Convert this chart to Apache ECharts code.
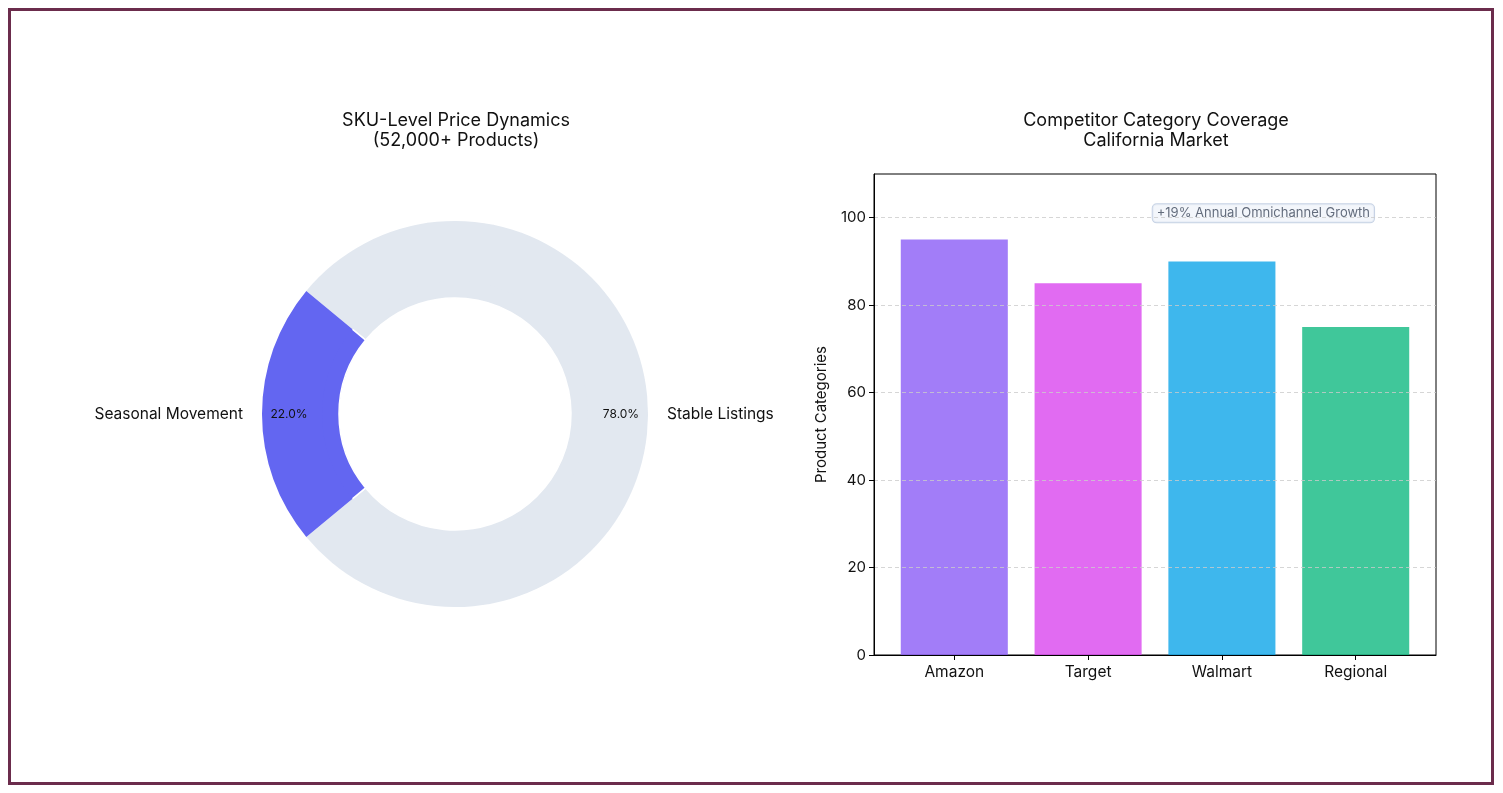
<!DOCTYPE html>
<html>
<head>
<meta charset="utf-8">
<script src="https://cdn.jsdelivr.net/npm/echarts@6/dist/echarts.min.js"></script>
<style>
  html, body { margin: 0; padding: 0; background: #fff; }
  #chart { width: 1503px; height: 793px; }
  #frame {
    position: absolute; left: 8px; top: 8px;
    width: 1480px; height: 771px;
    border: 3px solid #6b2c4c; pointer-events: none;
  }
</style>
</head>
<body>
<div id="chart"></div>
<div id="frame"></div>
<script>
// donut data
var pieNames = ["Stable Listings", "Seasonal Movement"];
var pieValues = [78, 22];

// bar data
var competitors = ["Amazon", "Target", "Walmart", "Regional"];
var coverage = [95, 85, 90, 75];
var yTicks = [0, 20, 40, 60, 80, 100];

// annotation on the bar chart (x in axis units, y in data units)
var noteText = "+19% Annual Omnichannel Growth";
var notePos = [2.31, 101];

var pieColors = ["#e2e8f0", "#6366f1"];
var barColors = ["#8b5cf6", "#d946ef", "#0ea5e9", "#10b981"];
var font = "Inter, 'Noto Sans', sans-serif";

var myChart = echarts.init(document.getElementById("chart"));

var pieData = pieNames.map(function(n, i) {
  return { name: n, value: pieValues[i], itemStyle: { color: pieColors[i] } };
});

var titleStyle = { fontSize: 18, fontWeight: "normal", lineHeight: 20, color: "#111", fontFamily: font };

var option = {
  animation: false,
  textStyle: { fontFamily: font, color: "#111" },
  title: [{
    text: "SKU-Level Price Dynamics\n(52,000+ Products)",
    left: 451, top: 106, textAlign: "center", textStyle: titleStyle
  }, {
    text: "Competitor Category Coverage\nCalifornia Market",
    left: 1151, top: 106, textAlign: "center", textStyle: titleStyle
  }],
  grid: [
    // outer frame with y axis
    { left: 874, top: 174, width: 562, height: 481, show: true, borderColor: "#000", borderWidth: 1, backgroundColor: "transparent" },
    // inner grid for bars (matches -0.6..3.6 x-limits)
    { left: 887.4, top: 174, width: 535.2, height: 481 }
  ],
  xAxis: [{
    gridIndex: 0, type: "value", min: -0.6, max: 3.6, z: 5,
    axisLine: { show: true, onZero: false, lineStyle: { color: "#000" } },
    axisTick: { show: false }, axisLabel: { show: false }, splitLine: { show: false }
  }, {
    gridIndex: 1, type: "category", data: competitors,
    axisLine: { show: false },
    axisTick: { show: true, alignWithLabel: true, length: 5, lineStyle: { color: "#000" } },
    axisLabel: { fontSize: 15.5, color: "#111", margin: 9 }
  }],
  yAxis: [{
    gridIndex: 0, type: "value", min: 0, max: 110, z: 5,
    name: "Product Categories", nameLocation: "middle", nameGap: 45,
    nameTextStyle: { fontSize: 15, color: "#111" },
    axisLine: { show: true, onZero: false, lineStyle: { color: "#000" } },
    axisTick: { show: true, length: 5, customValues: yTicks, lineStyle: { color: "#000" } },
    axisLabel: { fontSize: 15, color: "#111", margin: 8, customValues: yTicks },
    splitLine: { show: true, lineStyle: { color: "#cccccc", type: [4, 3], width: 0.8 } }
  }, {
    gridIndex: 1, type: "value", min: 0, max: 110, show: false, splitLine: { show: false }
  }],
  series: [{
    type: "pie",
    center: [455, 414],
    radius: [116, 193],
    startAngle: 140.4,
    clockwise: true,
    avoidLabelOverlap: false,
    silent: true,
    data: pieData,
    itemStyle: { borderColor: "#fff", borderWidth: 1.5 },
    label: { show: true, position: "outside", fontSize: 15.5, color: "#111", distanceToLabelLine: 5 },
    labelLine: { show: false, length: 14, length2: 0 }
  }, {
    // percentage labels at 0.85 of the outer radius
    type: "pie",
    center: [455, 414],
    radius: [133, 193],
    startAngle: 140.4,
    clockwise: true,
    silent: true,
    data: pieData,
    itemStyle: { color: "transparent" },
    label: {
      show: true, position: "inside", fontSize: 12, color: "#111",
      formatter: function(p) { return p.percent.toFixed(1) + "%"; }
    },
    labelLine: { show: false }
  }, {
    type: "bar",
    xAxisIndex: 1, yAxisIndex: 1,
    barWidth: "80%",
    data: coverage.map(function(v, i) {
      return { value: v, itemStyle: { color: barColors[i], opacity: 0.8 } };
    })
  }, {
    type: "scatter",
    xAxisIndex: 0, yAxisIndex: 0,
    symbolSize: 0,
    silent: true,
    data: [notePos],
    label: {
      show: true, position: "inside", formatter: noteText,
      fontSize: 13, color: "#3f4a5c",
      backgroundColor: "#f0f4fa", borderColor: "#b8c7dd", borderWidth: 1,
      borderRadius: 4, padding: [3, 4, 2, 4]
    }
  }]
};

myChart.setOption(option);
</script>
</body>
</html>
